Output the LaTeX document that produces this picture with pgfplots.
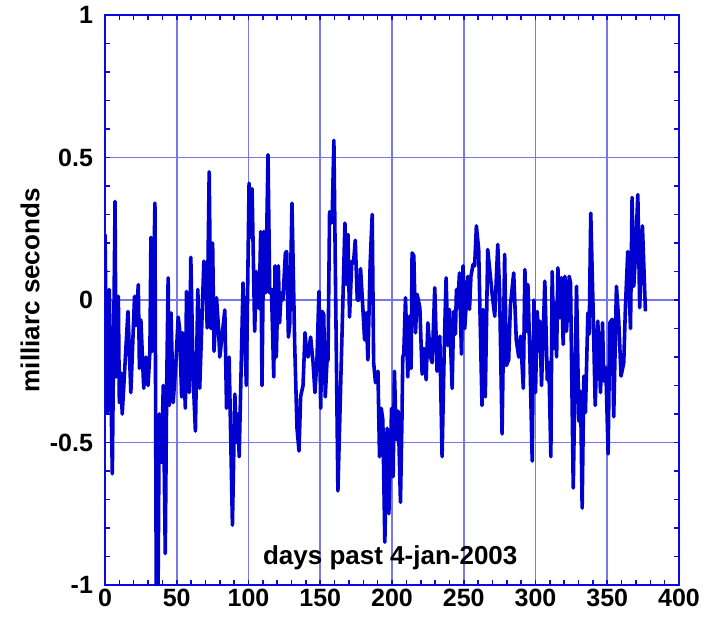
\documentclass[border=0pt]{standalone}
\usepackage{fontspec}
\setmainfont{Liberation Sans}
\usepackage{pgfplots}
\pgfplotsset{compat=1.18}

\definecolor{axblue}{RGB}{10,10,225}
\definecolor{gridblue}{RGB}{120,120,235}
\definecolor{lineblue}{RGB}{0,0,208}

\begin{document}
\begin{tikzpicture}
\begin{axis}[
    at={(0,0)}, anchor=south west,
    scale only axis,
    width=287pt, height=285pt,
    xmin=0, xmax=400, ymin=-1, ymax=1,
    xtick={0,50,...,400},
    ytick={-1,-0.5,0,0.5,1},
    minor x tick num=4, minor y tick num=4,
    tick align=inside,
    major tick length=2.5pt, minor tick length=2.5pt,
    axis line style={axblue, line width=1.1pt},
    every tick/.style={axblue, line width=0.8pt},
    grid=major,
    major grid style={gridblue, line width=0.8pt},
    font=\fontsize{12.5}{14}\selectfont\bfseries,
    /pgf/number format/assume math mode=true,
    xticklabel style={yshift=1.5pt},
    yticklabel style={xshift=-2.5pt},
    xlabel={days past 4-jan-2003},
    ylabel={milliarc seconds},
    every axis x label/.style={at={(rel axis cs:0.497,0.047)}, anchor=center, font=\fontsize{13}{15}\selectfont\bfseries},
    every axis y label/.style={at={(rel axis cs:0,0.517)}, rotate=90, anchor=center, yshift=37.5pt, font=\fontsize{13}{15}\selectfont\bfseries},
]
\addplot[lineblue, line width=1.8pt, line join=round] coordinates {
(0,0.23)(1.6,-0.395)(3,0.037)(5.1,-0.61)(7,0.346)(7.7,-0.27)(9.3,0.013)(10,-0.36)(11,-0.255)(12,-0.40)
(16,-0.04)(18,-0.325)(20.6,0.013)(21.6,-0.09)(23.2,0.054)(24,-0.24)(25,-0.07)(27,-0.31)(28.5,-0.20)(30,-0.30)
(31.3,-0.18)(32,0.22)(33,-0.18)(34.8,0.34)(35.8,-1.15)(36.8,-1.15)(37.8,-0.40)(39.4,-0.57)(40.6,-0.30)(42,-0.89)
(43,-0.30)(44,0.078)(44.8,-0.37)(46,-0.045)(47.5,-0.36)(49.4,-0.22)(51,-0.06)(52,-0.10)(53.4,-0.34)(54,-0.115)
(56,-0.38)(56.8,0.03)(58.7,-0.325)(59.8,0.15)(61.5,-0.28)(63,-0.46)(64.7,0.037)(66,-0.31)(68.9,0.136)(70.3,0.107)
(71.2,-0.098)(72.6,0.45)(73.8,-0.10)(75,0.20)(76,-0.18)(77.7,0.008)(79,-0.09)(80,-0.20)(83.5,-0.035)(84.7,-0.38)
(86.5,-0.20)(88.8,-0.79)(90.5,-0.33)(91.6,-0.50)(92.8,-0.40)(93.5,-0.55)(96.2,0.06)(98.5,-0.30)(100.4,0.41)
(101.6,0.22)(102.5,0.39)(104.3,-0.11)(105.5,0.10)(107.4,-0.03)(108.5,0.24)(109.4,-0.30)(110.6,0.24)(112,0.025)(113.6,0.51)
(114.8,0.025)(116,0.037)(117.6,-0.27)(118.5,0.12)(119.4,-0.20)(120.8,0.12)(121.7,-0.08)(122.7,0.025)(124,0)(125.7,0.165)
(126.6,0.17)(127.8,-0.13)(128.7,-0.09)(130.3,0.34)(132.2,-0.16)(133.8,-0.45)(135.2,-0.53)(136.3,-0.34)(138,-0.30)(139.4,-0.115)
(140.3,-0.17)(141.5,-0.20)(143.3,-0.13)(145,-0.22)(146.3,-0.325)(147.7,-0.21)(149.1,0.03)(150.3,-0.38)(151.4,-0.04)(152.4,-0.05)
(153.5,-0.34)(154.7,-0.215)(155.4,-0.21)(156.5,0.31)(157.7,0.27)(158.4,0.31)(159.5,0.56)(162.3,-0.67)(167.2,0.27)(168.1,0.055)
(169.3,0.23)(170.4,-0.06)(172,0.136)(173.2,0.13)(174.4,0.21)(175.8,0)(177,0)(178.1,0.11)(179.7,-0.03)(180.9,-0.14)
(182,-0.045)(183.2,-0.21)(184.8,0.13)(186.2,0.30)(187.2,-0.22)(188.5,-0.29)(190.2,-0.25)(191.3,-0.55)(192.5,-0.38)(193.6,-0.42)
(195,-0.85)(196.6,-0.45)(197.8,-0.75)(199.7,-0.38)(200.8,-0.62)(201.7,-0.25)(203,-0.49)(204.3,-0.39)(205.9,-0.71)(207,-0.40)
(207.5,-0.20)(208.2,-0.19)(209.4,0.008)(211,-0.27)(212.2,-0.057)(213.3,-0.24)(214,0.165)(215.2,0.155)(216.4,-0.115)(217.5,0.02)
(219.4,-0.027)(221,-0.26)(222.2,-0.17)(223.8,-0.28)(225,-0.08)(226.8,-0.20)(228,-0.22)(229.8,0.043)(231.4,-0.25)(233.3,-0.127)
(234.9,-0.55)(236.5,-0.15)(237.7,0.078)(238.9,-0.16)(240,-0.033)(241.9,-0.31)(243,-0.04)(244.2,-0.12)(244.9,0.037)(245.8,-0.027)
(247,0.095)(248.4,-0.19)(249.5,0.12)(250.7,-0.10)(252.8,0.083)(254,-0.033)(255,0.083)(256.5,0.125)(257.6,0.12)(258.8,0.26)
(260.4,0.177)(262.7,-0.37)(263.4,-0.033)(265,-0.34)(266.7,0.177)(269.7,0.025)(271.6,-0.057)(273.7,0.195)(275,0.025)(276.7,-0.47)
(278.5,0.16)(279.7,-0.23)(281.3,-0.21)(282.5,-0.02)(284.8,0.095)(286.6,-0.14)(288.3,-0.20)(289.6,-0.127)(291.5,-0.31)(292.6,0.107)
(293.8,-0.11)(294.7,0.054)(296.1,-0.20)(297.7,-0.565)(298.9,0)(300,-0.325)(301.2,-0.04)(302.4,-0.18)(303,-0.074)(304.2,-0.30)
(305.4,-0.11)(306.5,0.066)(308.2,-0.28)(309.3,-0.22)(310.7,-0.55)(311.6,0.10)(312.8,-0.17)(313.5,-0.01)(314.7,-0.20)(315.6,0.113)
(317,-0.063)(318.1,0.078)(319.3,-0.156)(320.5,0.083)(321.6,-0.11)(323.5,0.083)(324.4,0.06)(326.3,-0.66)(328.6,0.048)(330.2,-0.425)
(331.4,-0.32)(332.5,-0.73)(333.7,-0.267)(334.8,-0.395)(336.5,-0.045)(337.4,-0.12)(338.5,0.305)(340.2,-0.045)(341.6,-0.37)(343.4,-0.074)
(345.3,-0.325)(346.7,-0.08)(347.6,-0.284)(349,-0.237)(350.6,-0.54)(351.8,-0.08)(353.4,-0.068)(354.5,-0.41)(356.4,0.048)(358,-0.074)
(359.6,-0.267)(361.5,-0.22)(362.7,-0.02)(364.3,0.17)(366.2,-0.10)(367.3,0.36)(368.5,0.048)(369.6,0.154)(371.3,0.37)(372.6,-0.027)
(374.5,0.26)(376.6,-0.04)
};
\end{axis}
\pgfresetboundingbox
\useasboundingbox (-52.5pt,-15.5pt) rectangle (300pt,292.5pt);
\end{tikzpicture}
\end{document}
